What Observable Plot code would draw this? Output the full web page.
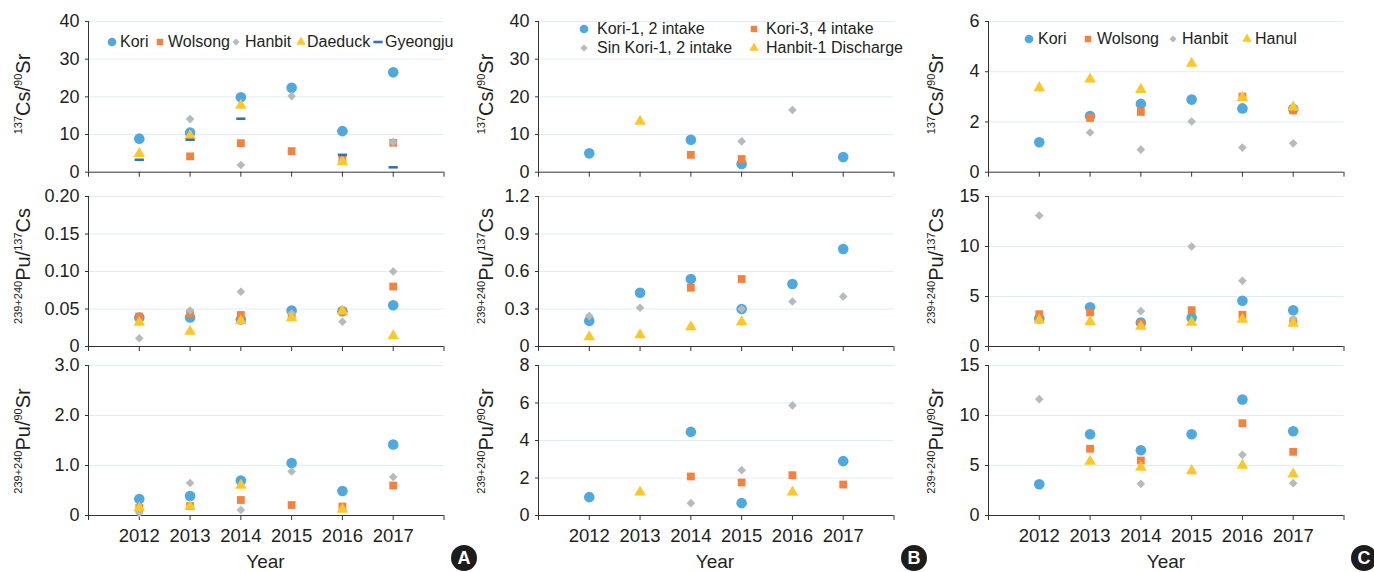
<!DOCTYPE html>
<html><head><meta charset="utf-8">
<script src="https://cdn.jsdelivr.net/npm/d3@7"></script>
<script src="https://cdn.jsdelivr.net/npm/@observablehq/plot@0.6"></script>
<style>
html,body{margin:0;padding:0;background:#fff;}
#root{position:relative;width:1374px;height:572px;overflow:hidden;font-family:"Liberation Sans",Arial,Helvetica,sans-serif;color:#231f20;}
.panel{position:absolute;}
.ylab{position:absolute;white-space:nowrap;font-size:20px;line-height:1;transform:translate(-50%,-50%) rotate(-90deg);}
.ylab .sup{font-size:11px;vertical-align:8px;}
.xlab{position:absolute;font-size:19px;line-height:1;transform:translate(-50%,-50%);}
.leg{position:absolute;font-size:16px;line-height:1;white-space:nowrap;transform:translateY(-50%);}
.legsym{position:absolute;overflow:visible;}
.badge{position:absolute;width:26px;height:26px;border-radius:50%;background:#1d1d1b;color:#fff;font-weight:bold;font-size:18px;line-height:26px;text-align:center;transform:translate(-50%,-50%);}
</style></head>
<body><div id="root"></div>
<script>
// ---------- data ----------
const years = [2012, 2013, 2014, 2015, 2016, 2017];
const yearTicks = [2011, 2012, 2013, 2014, 2015, 2016, 2017, 2018];
const yearLabels = ["2012", "2013", "2014", "2015", "2016", "2017"];

const seriesA = ["Kori", "Wolsong", "Hanbit", "Daeduck", "Gyeongju"];
const seriesB = ["Kori-1, 2 intake", "Kori-3, 4 intake", "Sin Kori-1, 2 intake", "Hanbit-1 Discharge"];
const seriesC = ["Kori", "Wolsong", "Hanbit", "Hanul"];

// Panel A (rows: series in seriesA order; columns: years)
const A_CsSr = [
  [8.9, 10.5, 19.9, 22.4, 10.9, 26.5],
  [null, 4.2, 7.7, 5.6, 3.4, 7.8],
  [null, 14.1, 1.9, 20.2, 3.2, 8.0],
  [4.9, 9.7, 17.7, null, 2.7, null],
  [3.3, 8.6, 14.2, null, 4.6, 1.3]
];
const A_PuCs = [
  [0.0387, 0.0387, 0.036, 0.048, 0.047, 0.055],
  [0.040, 0.044, 0.042, 0.042, 0.047, 0.080],
  [0.011, 0.048, 0.073, 0.044, 0.033, 0.100],
  [0.032, 0.020, 0.034, 0.038, 0.047, 0.014],
  [null, null, null, null, null, null]
];
const A_PuSr = [
  [0.33, 0.39, 0.70, 1.05, 0.49, 1.42],
  [0.15, 0.19, 0.31, 0.21, 0.18, 0.60],
  [0.05, 0.65, 0.11, 0.88, null, 0.77],
  [0.15, 0.18, 0.60, null, 0.12, null],
  [null, null, null, null, null, null]
];

// Panel B
const B_CsSr = [
  [5.0, null, 8.6, 2.2, null, 4.0],
  [null, null, 4.6, 3.5, null, null],
  [null, null, null, 8.2, 16.5, null],
  [null, 13.5, null, null, null, null]
];
const B_PuCs = [
  [0.205, 0.43, 0.54, 0.30, 0.50, 0.78],
  [null, null, 0.47, 0.54, null, null],
  [0.245, 0.31, null, 0.30, 0.36, 0.40],
  [0.077, 0.093, 0.157, 0.197, null, null]
];
const B_PuSr = [
  [0.98, null, 4.46, 0.66, null, 2.9],
  [null, null, 2.08, 1.76, 2.15, 1.65],
  [null, null, 0.66, 2.42, 5.87, null],
  [null, 1.24, null, null, 1.24, null]
];

// Panel C
const C_CsSr = [
  [1.19, 2.24, 2.72, 2.89, 2.54, 2.52],
  [null, 2.16, 2.40, null, 3.01, 2.46],
  [null, 1.58, 0.90, 2.02, 0.98, 1.15],
  [3.36, 3.70, 3.29, 4.33, 2.97, 2.59]
];
const C_PuCs = [
  [2.8, 3.93, 2.4, 2.87, 4.57, 3.63],
  [3.23, 3.4, 2.3, 3.63, 3.17, 2.5],
  [13.1, null, 3.53, 10.0, 6.57, 2.8],
  [2.63, 2.47, 2.0, 2.4, 2.7, 2.3]
];
const C_PuSr = [
  [3.13, 8.13, 6.53, 8.13, 11.6, 8.43],
  [null, 6.67, 5.5, null, 9.23, 6.37],
  [11.63, null, 3.17, null, 6.07, 3.23],
  [null, 5.4, 4.8, 4.47, 5.0, 4.13]
];

// y ticks and labels
const ticksA1 = [0, 10, 20, 30, 40], labelsA1 = ["0", "10", "20", "30", "40"];
const ticksA2 = [0, 0.05, 0.10, 0.15, 0.20], labelsA2 = ["0", "0.05", "0.10", "0.15", "0.20"];
const ticksA3 = [0, 1, 2, 3], labelsA3 = ["0", "1.0", "2.0", "3.0"];
const ticksB1 = [0, 10, 20, 30, 40], labelsB1 = ["0", "10", "20", "30", "40"];
const ticksB2 = [0, 0.3, 0.6, 0.9, 1.2], labelsB2 = ["0", "0.3", "0.6", "0.9", "1.2"];
const ticksB3 = [0, 2, 4, 6, 8], labelsB3 = ["0", "2", "4", "6", "8"];
const ticksC1 = [0, 2, 4, 6], labelsC1 = ["0", "2", "4", "6"];
const ticksC2 = [0, 5, 10, 15], labelsC2 = ["0", "5", "10", "15"];
const ticksC3 = [0, 5, 10, 15], labelsC3 = ["0", "5", "10", "15"];

const labelCsSr = '<span class="sup">137</span>Cs/<span class="sup">90</span>Sr';
const labelPuCs = '<span class="sup">239+240</span>Pu/<span class="sup">137</span>Cs';
const labelPuSr = '<span class="sup">239+240</span>Pu/<span class="sup">90</span>Sr';

// ---------- styles ----------
const dashSymbol = {draw(ctx) { const w = 4.6, h = 1.3; ctx.moveTo(-w, -h); ctx.lineTo(w, -h); ctx.lineTo(w, h); ctx.lineTo(-w, h); ctx.closePath(); }};
const styles = [
  {symbol: "circle", d3sym: d3.symbolCircle, fill: "#4fa8de", r: 5.3},
  {symbol: "square", d3sym: d3.symbolSquare, fill: "#f4823e", r: 4.4},
  {symbol: "diamond2", d3sym: d3.symbolDiamond2, fill: "#b5babe", r: 3.9},
  {symbol: "triangle", d3sym: d3.symbolTriangle, fill: "#fdc72a", r: 4.3},
  {symbol: dashSymbol, d3sym: dashSymbol, fill: "#2f72bd", r: 4}
];

// ---------- layout ----------
const root = document.getElementById("root");
const colX0 = [88, 537.5, 988];
const plotW = 355.5;
const rowTop = [21, 195.7, 365];
const rowBot = [171.7, 345.7, 515];
const ML = 60, MR = 12, MT = 12;
const FONT = '"Liberation Sans", Arial, Helvetica, sans-serif';

const panels = [
  [A_CsSr, ticksA1, labelsA1, labelCsSr], [A_PuCs, ticksA2, labelsA2, labelPuCs], [A_PuSr, ticksA3, labelsA3, labelPuSr],
  [B_CsSr, ticksB1, labelsB1, labelCsSr], [B_PuCs, ticksB2, labelsB2, labelPuCs], [B_PuSr, ticksB3, labelsB3, labelPuSr],
  [C_CsSr, ticksC1, labelsC1, labelCsSr], [C_PuCs, ticksC2, labelsC2, labelPuCs], [C_PuSr, ticksC3, labelsC3, labelPuSr]
];
const ylabX = [23, 486, 936];
const ylabY = [94, 266, 441];

panels.forEach(([vals, ticks, labels, ylab], k) => {
  const col = Math.floor(k / 3), row = k % 3;
  const plotH = rowBot[row] - rowTop[row];
  const MB = row === 2 ? 40 : 8;
  const marks = [
    Plot.ruleY(ticks.filter(t => t > 0), {stroke: "#dfeef0", strokeWidth: 1}),
    Plot.axisY({ticks, label: null, tickFormat: d => labels[ticks.indexOf(d)], tickSize: 3, tickPadding: 6, fontSize: 18, stroke: "#333"}),
    Plot.axisX({ticks: yearTicks, label: null, tickSize: 5, tickPadding: 8, fontSize: 18.5, stroke: "#333",
      tickFormat: d => row === 2 ? (yearLabels[years.indexOf(d)] ?? "") : ""}),
    Plot.ruleX([2011], {stroke: "#333", strokeWidth: 1}),
    Plot.ruleY([0], {stroke: "#333", strokeWidth: 1})
  ];
  vals.forEach((series, s) => {
    const st = styles[s];
    const pts = years.map((yr, i) => ({x: yr, y: series[i]})).filter(d => d.y != null);
    marks.push(Plot.dot(pts, {x: "x", y: "y", symbol: st.symbol, fill: st.fill, r: st.r, stroke: "none"}));
  });
  const chart = Plot.plot({
    width: ML + plotW + MR,
    height: MT + plotH + MB,
    marginLeft: ML, marginRight: MR, marginTop: MT, marginBottom: MB,
    x: {domain: [2011, 2018], label: null},
    y: {domain: [ticks[0], ticks[ticks.length - 1]], label: null},
    style: {fontFamily: FONT, fontSize: "18px", color: "#231f20", background: "transparent", overflow: "visible"},
    marks
  });
  chart.classList.add("panel");
  chart.style.left = (colX0[col] - ML) + "px";
  chart.style.top = (rowTop[row] - MT) + "px";
  root.appendChild(chart);

  const lab = document.createElement("div");
  lab.className = "ylab";
  lab.innerHTML = ylab;
  lab.style.left = ylabX[col] + "px";
  lab.style.top = ylabY[row] + "px";
  root.appendChild(lab);
});

// x labels
[265.5, 715, 1166].forEach(x => {
  const d = document.createElement("div");
  d.className = "xlab"; d.textContent = "Year";
  d.style.left = x + "px"; d.style.top = "561px";
  root.appendChild(d);
});

// badges
[["A", 464], ["B", 914], ["C", 1364]].forEach(([t, x]) => {
  const d = document.createElement("div");
  d.className = "badge"; d.textContent = t;
  d.style.left = x + "px"; d.style.top = "558px";
  root.appendChild(d);
});

// legends
function legendItem(name, s, sx, sy, tx, scale) {
  const st = styles[s];
  const svg = d3.create("svg").attr("class", "legsym").attr("width", 14).attr("height", 14)
    .style("left", (sx - 7) + "px").style("top", (sy - 7) + "px");
  const rr = st.r * scale;
  svg.append("path").attr("transform", "translate(7,7)")
    .attr("d", d3.symbol(st.d3sym, rr * rr * Math.PI)()).attr("fill", st.fill);
  root.appendChild(svg.node());
  const t = document.createElement("div");
  t.className = "leg"; t.textContent = name;
  t.style.left = tx + "px"; t.style.top = sy + "px";
  root.appendChild(t);
}
// A
[[112, 120], [160, 168], [236, 245], [301, 307], [378, 385]].forEach(([sx, tx], i) => legendItem(seriesA[i], i, sx, 42, tx, 0.82));
// B
[[584, 29.3, 597], [754, 29.3, 766], [584, 48.3, 597], [754, 48.3, 766]].forEach(([sx, sy, tx], i) => legendItem(seriesB[i], i, sx, sy, tx, 0.82));
// C
[[1029, 1038], [1088, 1097], [1173, 1182], [1247, 1255]].forEach(([sx, tx], i) => legendItem(seriesC[i], i, sx, 39.3, tx, 0.82));
</script>
</body></html>
